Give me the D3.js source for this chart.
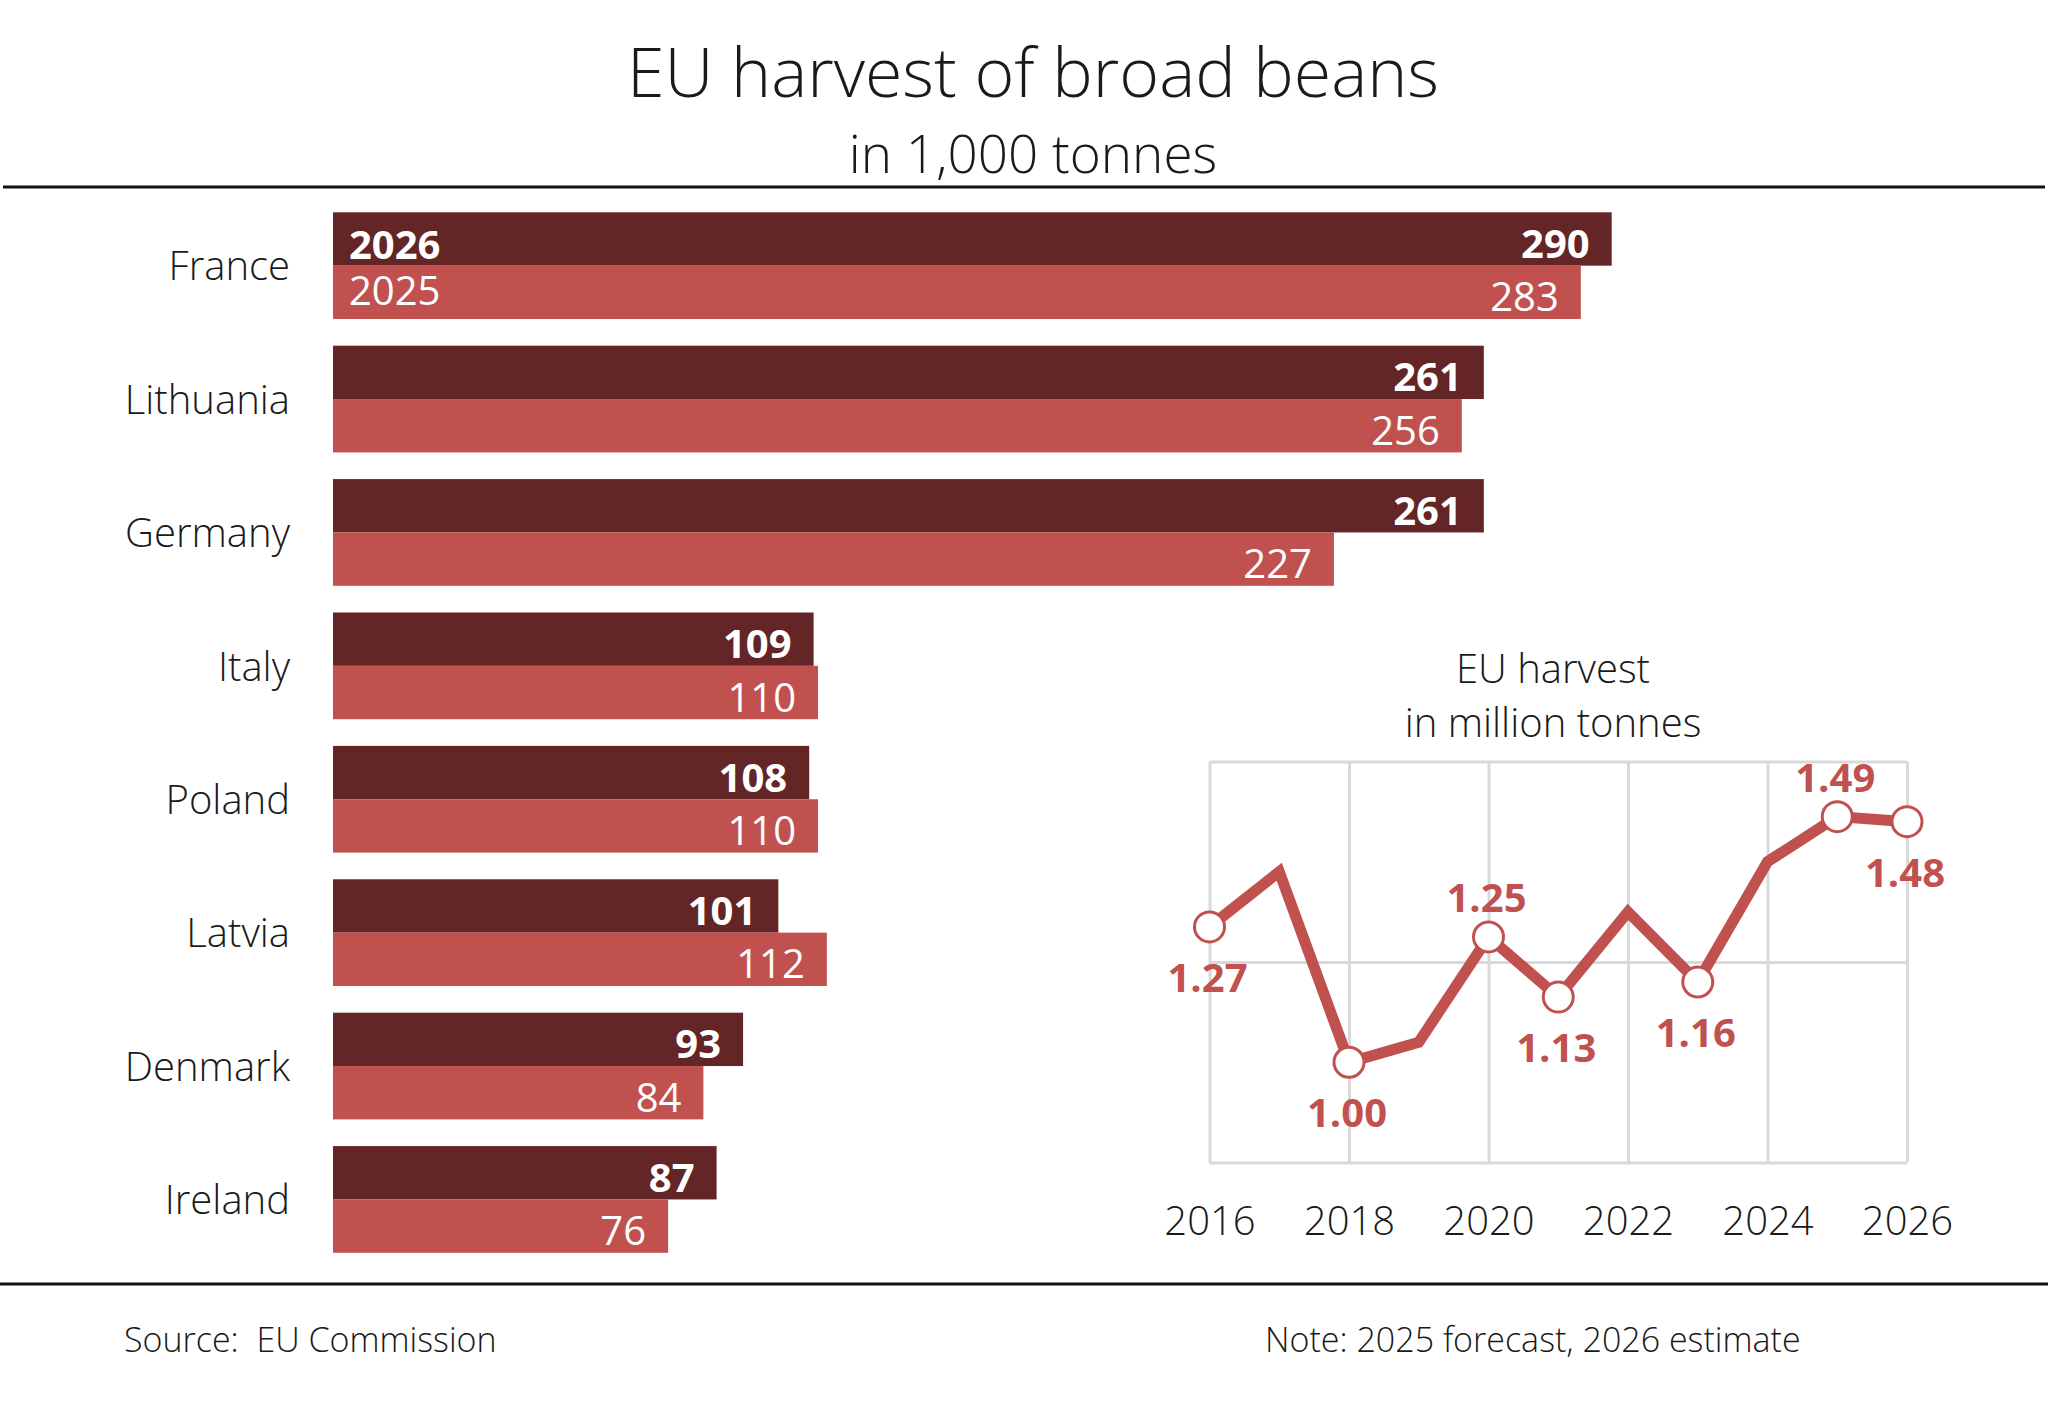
<!DOCTYPE html>
<html>
<head>
<meta charset="utf-8">
<script src="https://cdn.jsdelivr.net/npm/d3@7"></script>
<style>
  html, body { margin: 0; padding: 0; background: #fff; }
  svg { display: block; font-family: "Open Sans", sans-serif; }
  .domain { display: none; }
</style>
</head>
<body>
<svg id="chart" width="2048" height="1402"></svg>
<script>
// bar chart data (1,000 tonnes)
const countries = ["France", "Lithuania", "Germany", "Italy", "Poland", "Latvia", "Denmark", "Ireland"];
const years = ["2026", "2025"];
const values2026 = [290, 261, 261, 109, 108, 101, 93, 87];
const values2025 = [283, 256, 227, 110, 110, 112, 84, 76];

// EU total (million tonnes)
const euYears = [2016, 2017, 2018, 2019, 2020, 2021, 2022, 2023, 2024, 2025, 2026];
const euValues = [1.27, 1.38, 1.00, 1.04, 1.25, 1.13, 1.30, 1.16, 1.40, 1.49, 1.48];
const euLabelled = [2016, 2018, 2020, 2021, 2023, 2025, 2026];
const euLabelSide = ["below", "below", "above", "below", "below", "above", "below"];
const yearTicks = [2016, 2018, 2020, 2022, 2024, 2026];
const gridValues = [0.8, 1.2, 1.6];

const dark = "#632526", light = "#c0514f", ink = "#1a1a1a";

const svg = d3.select("#chart");

// header
svg.append("text")
    .attr("x", 1033).attr("y", 97)
    .attr("text-anchor", "middle")
    .attr("font-size", 68).attr("font-weight", 300)
    .attr("fill", ink)
    .text("EU harvest of broad beans");
svg.append("text")
    .attr("x", 1033).attr("y", 173)
    .attr("text-anchor", "middle")
    .attr("font-size", 53).attr("font-weight", 300)
    .attr("fill", ink)
    .text("in 1,000 tonnes");

svg.append("line")
    .attr("x1", 3).attr("x2", 2045)
    .attr("y1", 187).attr("y2", 187)
    .attr("stroke", "#111").attr("stroke-width", 3);
svg.append("line")
    .attr("x1", 0).attr("x2", 2048)
    .attr("y1", 1284).attr("y2", 1284)
    .attr("stroke", "#111").attr("stroke-width", 3);

// ---- bars ----
const rows = countries.map((c, i) => ({ country: c, "2026": values2026[i], "2025": values2025[i] }));

const x = d3.scaleLinear().domain([0, 290]).range([333, 1611.7]);
const y = d3.scaleBand().domain(countries).range([212.3, 1252.8]).paddingInner(0.2).paddingOuter(0);
const yy = d3.scaleBand().domain(years).range([0, y.bandwidth()]);
const fill = d3.scaleOrdinal().domain(years).range([dark, light]);

svg.append("g")
    .attr("transform", "translate(333,2)")
    .call(d3.axisLeft(y).tickSize(0).tickPadding(43))
    .call(g => g.selectAll("text")
        .attr("font-size", 40).attr("font-weight", 300)
        .attr("font-family", "Open Sans, sans-serif")
        .attr("fill", ink));

const group = svg.append("g").selectAll("g")
    .data(rows)
    .join("g")
    .attr("transform", d => `translate(0,${y(d.country)})`);

const cells = group.selectAll("g")
    .data((d, i) => years.map(k => ({ key: k, value: d[k], first: i === 0 })))
    .join("g");

cells.append("rect")
    .attr("x", x(0))
    .attr("y", d => yy(d.key))
    .attr("width", d => x(d.value) - x(0))
    .attr("height", yy.bandwidth())
    .attr("fill", d => fill(d.key));

cells.append("text")
    .attr("x", d => x(d.value) - 22)
    .attr("y", d => yy(d.key) + yy.bandwidth() / 2 + 19)
    .attr("text-anchor", "end")
    .attr("font-size", 40)
    .attr("font-weight", d => d.key === "2026" ? 700 : 400)
    .attr("fill", "#fff")
    .text(d => d.value);

cells.filter(d => d.first).append("text")
    .attr("x", x(0) + 16)
    .attr("y", d => yy(d.key) + yy.bandwidth() / 2 + (d.key === "2026" ? 20 : 13))
    .attr("font-size", 40)
    .attr("font-weight", d => d.key === "2026" ? 700 : 400)
    .attr("fill", "#fff")
    .text(d => d.key);

// ---- EU total inset ----
const lx = d3.scaleLinear().domain([2016, 2026]).range([1209.5, 1907]);
const ly = d3.scaleLinear().domain([0.8, 1.6]).range([1162.5, 761.5]);

svg.append("text")
    .attr("x", 1553).attr("y", 683)
    .attr("text-anchor", "middle")
    .attr("font-size", 40).attr("font-weight", 300).attr("fill", ink)
    .text("EU harvest");
svg.append("text")
    .attr("x", 1553).attr("y", 737)
    .attr("text-anchor", "middle")
    .attr("font-size", 40).attr("font-weight", 300).attr("fill", ink)
    .text("in million tonnes");

svg.append("g")
    .attr("transform", "translate(1209.5,0)")
    .call(d3.axisLeft(ly).tickValues(gridValues).tickSize(-(1907 - 1209.5)).tickFormat(""))
    .call(g => g.selectAll("line").attr("stroke", "#d9d9d9").attr("stroke-width", 3));

svg.append("g")
    .attr("transform", "translate(0,1162.5)")
    .call(d3.axisBottom(lx).tickValues(yearTicks).tickSize(-(1162.5 - 761.5)).tickFormat(d3.format("d")))
    .call(g => g.selectAll("line").attr("stroke", "#d9d9d9").attr("stroke-width", 3))
    .call(g => g.selectAll("text")
        .attr("y", 72).attr("dy", null)
        .attr("font-size", 40).attr("font-weight", 300)
        .attr("font-family", "Open Sans, sans-serif")
        .attr("fill", ink));

const eu = euYears.map((yr, i) => ({ year: yr, value: euValues[i] }));

svg.append("path")
    .datum(eu)
    .attr("fill", "none")
    .attr("stroke", light)
    .attr("stroke-width", 11)
    .attr("stroke-linejoin", "miter")
    .attr("d", d3.line().x(d => lx(d.year)).y(d => ly(d.value)));

const marked = eu.filter(d => euLabelled.includes(d.year))
    .map(d => ({ ...d, side: euLabelSide[euLabelled.indexOf(d.year)] }));

svg.append("g").selectAll("circle")
    .data(marked)
    .join("circle")
    .attr("cx", d => lx(d.year))
    .attr("cy", d => ly(d.value))
    .attr("r", 15)
    .attr("fill", "#fff")
    .attr("stroke", light)
    .attr("stroke-width", 3);

svg.append("g").selectAll("text")
    .data(marked)
    .join("text")
    .attr("x", d => lx(d.year) - 2)
    .attr("y", d => ly(d.value) + (d.side === "above" ? -25 : 65))
    .attr("text-anchor", "middle")
    .attr("font-size", 40)
    .attr("font-weight", 700)
    .attr("fill", light)
    .text(d => d3.format(".2f")(d.value));

// footer
svg.append("text")
    .attr("x", 124).attr("y", 1352)
    .attr("font-size", 34).attr("font-weight", 300).attr("fill", ink)
    .attr("xml:space", "preserve")
    .text("Source:  EU Commission");
svg.append("text")
    .attr("x", 1265).attr("y", 1352)
    .attr("font-size", 34).attr("font-weight", 300).attr("fill", ink)
    .text("Note: 2025 forecast, 2026 estimate");
</script>
</body>
</html>
